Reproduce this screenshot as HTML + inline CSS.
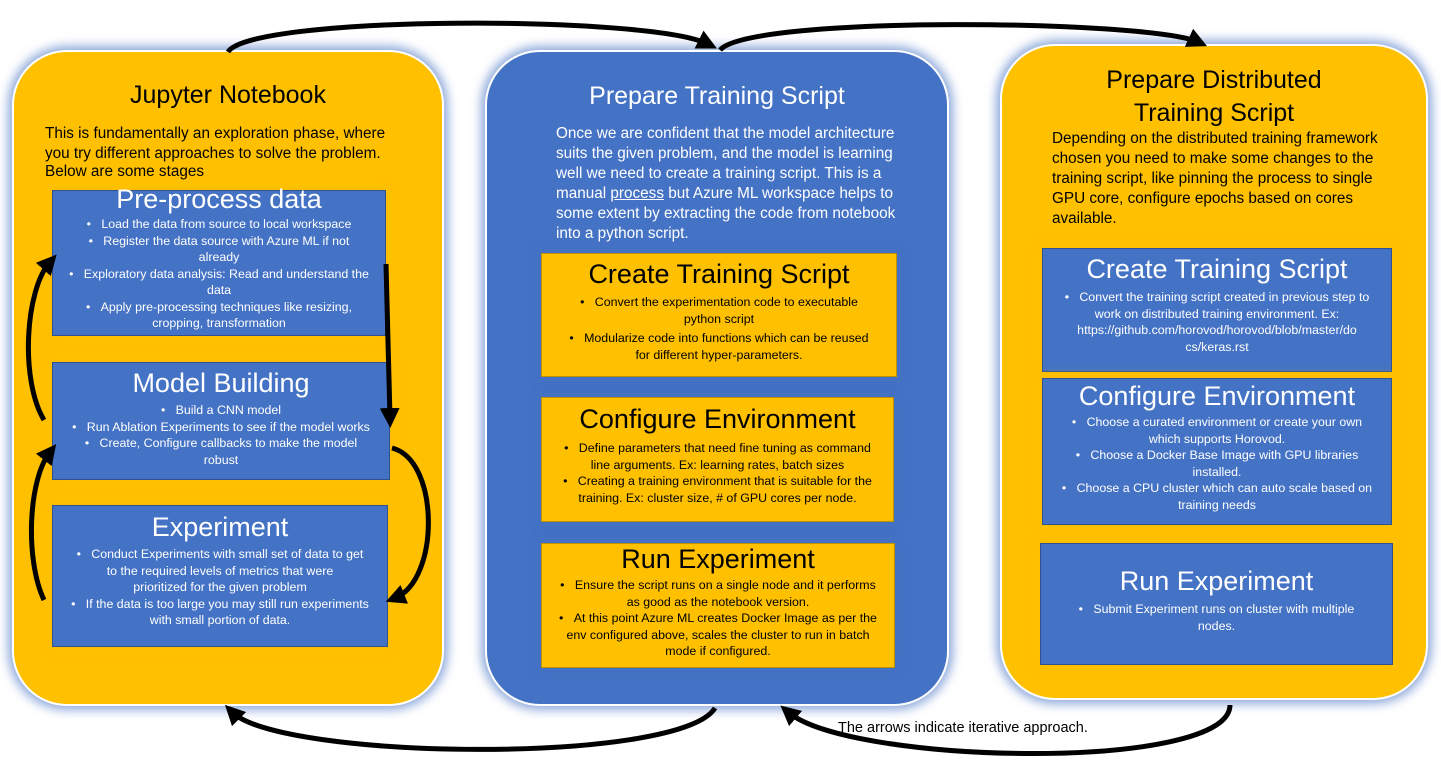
<!DOCTYPE html>
<html><head><meta charset="utf-8"><style>
body{margin:0;width:1441px;height:769px;background:#fff;position:relative;overflow:hidden;font-family:"Liberation Sans",sans-serif;}
.c{position:absolute;box-sizing:border-box;}
.y{background:#FFC000;}
.b{background:#4472C4;}
.cont{border-radius:55px;box-shadow:0 0 10px 4px rgba(68,114,196,0.6);border:2px solid #fff;}
.box{box-shadow:0 0 8px 3px rgba(255,192,0,0.5);border:1px solid #2f528f;}
.box2{box-shadow:0 0 8px 3px rgba(68,114,196,0.5);border:1px solid #c09000;}
.t{position:absolute;left:0;right:0;text-align:center;white-space:nowrap;}
.p{position:absolute;white-space:nowrap;font-size:15.3px;line-height:20px;}
.bl{position:absolute;left:0;right:0;text-align:center;font-size:12.4px;line-height:16.5px;white-space:nowrap;}
.w{color:#fff}.k{color:#000}
</style></head><body>
<svg width="1441" height="769" style="position:absolute;left:0;top:0;z-index:5;pointer-events:none">
<defs><marker id="a" markerWidth="4" markerHeight="4" refX="2" refY="2" orient="auto"><path d="M0,0L4,2L0,4z" fill="#000"/></marker></defs>
<g fill="none" stroke="#000" stroke-width="5" marker-end="url(#a)">
<path d="M228,52 C250,15 650,15 708,44"/>
<path d="M720,50 C750,15 1150,20 1198,42"/>
<path d="M1230,705 C1230,772 850,765 788,712"/>
<path d="M715,708 C680,765 280,760 232,712"/>
<path d="M44,420 C20,380 25,290 50,262"/>
<path d="M44,600 C25,560 28,480 50,452"/>
<path d="M386,264 L390,418"/>
<path d="M392,448 C440,460 440,580 395,598"/>
</g></svg>

<div class="c y cont" style="left:12px;top:50px;width:432px;height:656px;"></div>
<div class="t k" style="left:12px;width:432px;right:auto;top:81px;font-size:25px;">Jupyter Notebook</div>
<div class="p k" style="left:45px;top:124px;">This is fundamentally an exploration phase, where<br>you try different approaches to solve the problem.<br><span style="position:relative;top:-2px">Below are some stages</span></div>

<div class="c b box" style="left:52px;top:190px;width:334px;height:146px;">
<div class="t w" style="top:-7px;font-size:27px;">Pre-process data</div>
<div class="bl w" style="top:25px;">•&nbsp;&nbsp;&nbsp;Load the data from source to local workspace<br>•&nbsp;&nbsp;&nbsp;Register the data source with Azure ML if not<br>already<br>•&nbsp;&nbsp;&nbsp;Exploratory data analysis: Read and understand the<br>data<br>•&nbsp;&nbsp;&nbsp;Apply pre-processing techniques like resizing,<br>cropping, transformation</div></div>

<div class="c b box" style="left:52px;top:362px;width:338px;height:118px;">
<div class="t w" style="top:5px;font-size:27px;">Model Building</div>
<div class="bl w" style="top:39px;">•&nbsp;&nbsp;&nbsp;Build a CNN model<br>•&nbsp;&nbsp;&nbsp;Run Ablation Experiments to see if the model works<br>•&nbsp;&nbsp;&nbsp;Create, Configure callbacks to make the model<br>robust</div></div>

<div class="c b box" style="left:52px;top:505px;width:336px;height:142px;">
<div class="t w" style="top:6px;font-size:27px;">Experiment</div>
<div class="bl w" style="top:40px;">•&nbsp;&nbsp;&nbsp;Conduct Experiments with small set of data to get<br>to the required levels of metrics that were<br>prioritized for the given problem<br>•&nbsp;&nbsp;&nbsp;If the data is too large you may still run experiments<br>with small portion of data.</div></div>

<div class="c b cont" style="left:485px;top:50px;width:464px;height:656px;"></div>
<div class="t w" style="left:485px;width:464px;right:auto;top:82px;font-size:25px;">Prepare Training Script</div>
<div class="p w" style="left:556px;top:124px;">Once we are confident that the model architecture<br>suits the given problem, and the model is learning<br>well we need to create a training script. This is a<br>manual <u>process</u> but Azure ML workspace helps to<br>some extent by extracting the code from notebook<br>into a python script.</div>

<div class="c y box2" style="left:541px;top:253px;width:356px;height:124px;">
<div class="t k" style="top:5px;font-size:27px;">Create Training Script</div>
<div class="bl k" style="top:40px;">•&nbsp;&nbsp;&nbsp;Convert the experimentation code to executable<br>python script<br><span style="display:block;height:3px"></span>•&nbsp;&nbsp;&nbsp;Modularize code into functions which can be reused<br>for different hyper-parameters.</div></div>

<div class="c y box2" style="left:541px;top:397px;width:353px;height:125px;">
<div class="t k" style="top:6px;font-size:27px;">Configure Environment</div>
<div class="bl k" style="top:42px;">•&nbsp;&nbsp;&nbsp;Define parameters that need fine tuning as command<br>line arguments. Ex: learning rates, batch sizes<br>•&nbsp;&nbsp;&nbsp;Creating a training environment that is suitable for the<br>training. Ex: cluster size, # of GPU cores per node.</div></div>

<div class="c y box2" style="left:541px;top:543px;width:354px;height:125px;">
<div class="t k" style="top:0px;font-size:27px;">Run Experiment</div>
<div class="bl k" style="top:33px;">•&nbsp;&nbsp;&nbsp;Ensure the script runs on a single node and it performs<br>as good as the notebook version.<br>•&nbsp;&nbsp;&nbsp;At this point Azure ML creates Docker Image as per the<br>env configured above, scales the cluster to run in batch<br>mode if configured.</div></div>

<div class="c y cont" style="left:1000px;top:44px;width:428px;height:656px;"></div>
<div class="t k" style="left:1000px;width:428px;right:auto;top:64px;font-size:25px;line-height:33px;">Prepare Distributed<br>Training Script</div>
<div class="p k" style="left:1052px;top:129px;">Depending on the distributed training framework<br>chosen you need to make some changes to the<br>training script, like pinning the process to single<br>GPU core, configure epochs based on cores<br>available.</div>

<div class="c b box" style="left:1042px;top:248px;width:350px;height:124px;">
<div class="t w" style="top:5px;font-size:27px;">Create Training Script</div>
<div class="bl w" style="top:40px;">•&nbsp;&nbsp;&nbsp;Convert the training script created in previous step to<br>work on distributed training environment. Ex:<br>https://github.com/horovod/horovod/blob/master/do<br>cs/keras.rst</div></div>

<div class="c b box" style="left:1042px;top:378px;width:350px;height:147px;">
<div class="t w" style="top:2px;font-size:27px;">Configure Environment</div>
<div class="bl w" style="top:35px;">•&nbsp;&nbsp;&nbsp;Choose a curated environment or create your own<br>which supports Horovod.<br>•&nbsp;&nbsp;&nbsp;Choose a Docker Base Image with GPU libraries<br>installed.<br>•&nbsp;&nbsp;&nbsp;Choose a CPU cluster which can auto scale based on<br>training needs</div></div>

<div class="c b box" style="left:1040px;top:543px;width:353px;height:122px;">
<div class="t w" style="top:22px;font-size:27px;">Run Experiment</div>
<div class="bl w" style="top:57px;">•&nbsp;&nbsp;&nbsp;Submit Experiment runs on cluster with multiple<br>nodes.</div></div>

<div class="p k" style="left:838px;top:718px;font-size:14.5px;z-index:6">The arrows indicate iterative approach.</div>
</body></html>
